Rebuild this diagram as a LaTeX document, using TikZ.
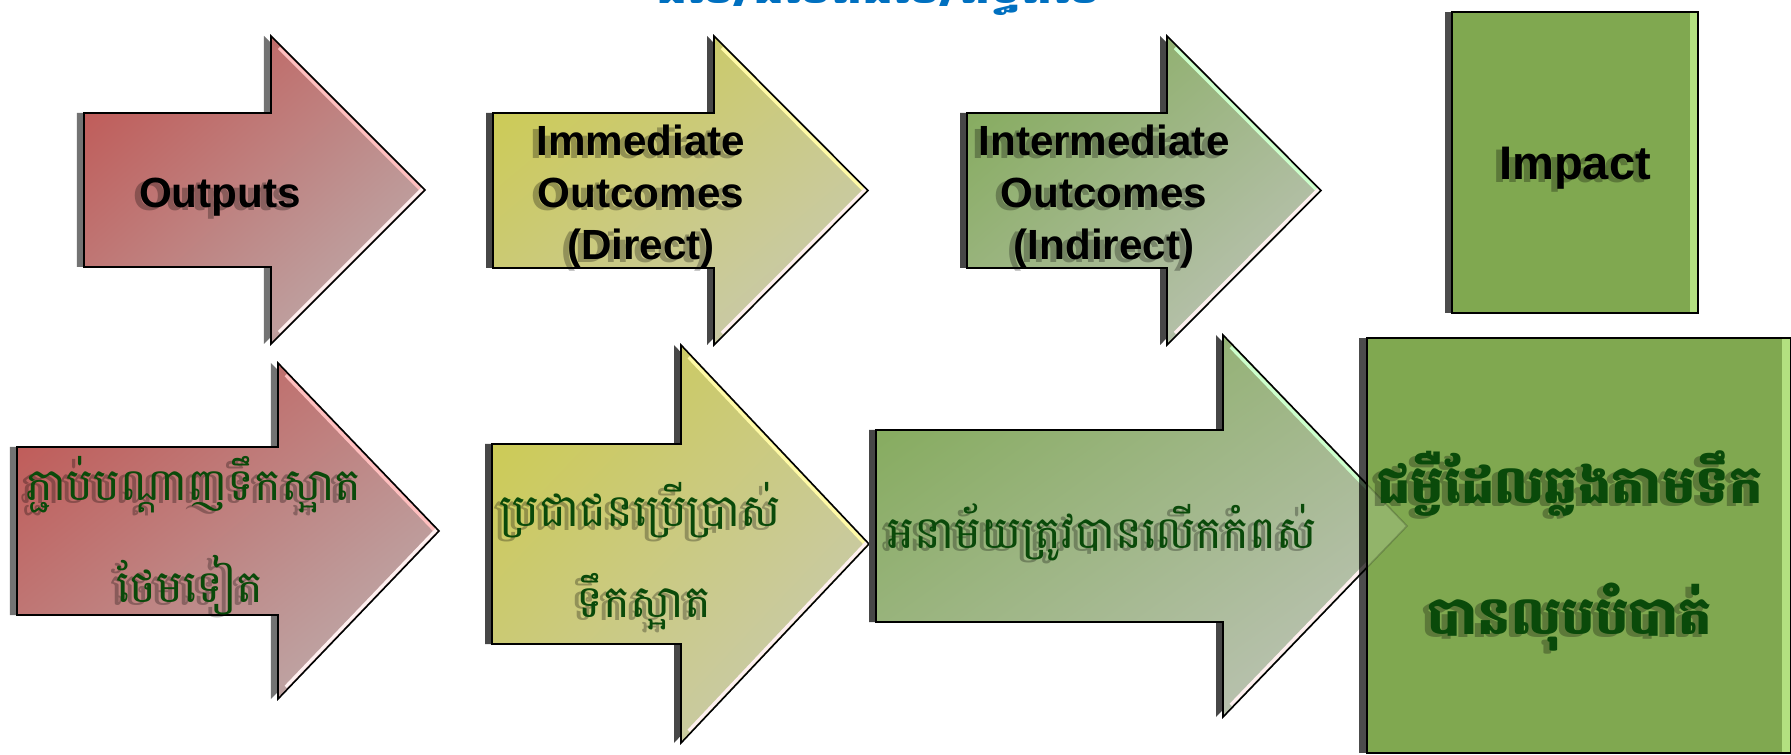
\documentclass[tikz,border=0pt]{standalone}
\usepackage{fontspec}
\setmainfont{Liberation Sans}
\newfontfamily\khmer[Script=Khmer]{Battambang}
\usetikzlibrary{shadings}

\definecolor{redA}{HTML}{C0504D}
\definecolor{redB}{HTML}{BDB6B6}
\definecolor{yelA}{HTML}{CDCB48}
\definecolor{yelB}{HTML}{C8C9BC}
\definecolor{grnA}{HTML}{7EA852}
\definecolor{grnB}{HTML}{C3C6C0}
\definecolor{boxgreen}{HTML}{80A850}
\definecolor{boxstrip}{HTML}{B3E080}
\definecolor{khgreen}{HTML}{0A4A0A}
\definecolor{titleblue}{HTML}{0070C0}
\colorlet{redHi}{red!25!white}
\colorlet{yelHi}{yellow!35!white}
\colorlet{grnHi}{green!20!white}

\begin{document}
\begin{tikzpicture}[x=0.01cm, y=-0.01cm,
    outline/.style={draw=black, line width=0.45pt},
    arrowred/.style={upper left=redA, lower right=redB, upper right=redA!50!redB, lower left=redA!50!redB},
    arrowyel/.style={upper left=yelA, lower right=yelB, upper right=yelA!50!yelB, lower left=yelA!50!yelB},
    arrowgrn/.style={upper left=grnA, lower right=grnB, upper right=grnA!50!grnB, lower left=grnA!50!grnB},
    entext/.style={font=\bfseries\fontsize{12pt}{14.8pt}\selectfont, align=center, inner sep=0pt},
    khtext/.style={font=\khmer\fontsize{12.8pt}{15pt}\selectfont, text=khgreen, anchor=base, inner sep=0pt},
    khbold/.style={khtext, font=\khmer\bfseries\fontsize{15pt}{18pt}\selectfont},
    txtshadow/.style={xshift=-0.06cm, yshift=-0.03cm, text=black, opacity=0.28},
    impactbox/.style={fill=boxgreen}
  ]
  \useasboundingbox (0,0) rectangle (1791,755);

  % title, cut off at the top
  \node[font=\khmer\bfseries\fontsize{14pt}{16pt}\selectfont, text=titleblue, anchor=base, inner sep=0pt] (title) at (878,4) {ផល/ផលិតផល/ឥទ្ធិពល};

  % arrows: left / top / bottom / neck / head top / tip / colour / shadow
  \foreach \L/\T/\B/\N/\H/\X/\C/\S in {
      84/113/267/271/36/425/red/55,
      493/113/268/714/36/868/yel/72,
      967/113/268/1167/36/1321/grn/72,
      17/447/615/278/363/439/red/55,
      492/444/644/681/345/869/yel/72,
      876/430/622/1223/335/1407/grn/72}
  {
    \pgfmathsetmacro\M{(\T+\B)/2}
    \pgfmathsetmacro\G{2*\M-\H}
    \fill[black!\S, xshift=-0.07cm] (\L,\T) -- (\N,\T) -- (\N,\H) -- (\X,\M) -- (\N,\G) -- (\N,\B) -- (\L,\B) -- cycle;
    \shade[arrow\C] (\L,\T) -- (\N,\T) -- (\N,\H) -- (\X,\M) -- (\N,\G) -- (\N,\B) -- (\L,\B) -- cycle;
    \draw[\C Hi, line width=0.9pt, shorten <=4pt, xshift=-0.02cm, yshift=-0.02cm] (\N,\H) -- (\X,\M);
    \draw[white!94!red, line width=0.9pt, shorten >=4pt, xshift=-0.02cm, yshift=0.02cm] (\X,\M) -- (\N,\G);
    \draw[outline] (\L,\T) -- (\N,\T) -- (\N,\H) -- (\X,\M) -- (\N,\G) -- (\N,\B) -- (\L,\B) -- cycle;
  }

  % impact boxes
  \fill[black, opacity=0.7] (1445,12) rectangle (1452,313);
  \fill[impactbox] (1452,12) rectangle (1698,313);
  \fill[boxstrip] (1690,12) rectangle (1698,313);
  \draw[outline] (1452,12) rectangle (1698,313);

  \fill[black, opacity=0.7] (1359,338) rectangle (1367,753);
  \fill[impactbox] (1367,338) rectangle (1791,753);
  \begin{scope}
    \clip (1367,338) rectangle (1791,753);
    \fill[white, opacity=0.15] (1223,335) -- (1407,526) -- (1223,717) -- cycle;
    \draw[black, opacity=0.2, line width=0.45pt] (1223,335) -- (1407,526) -- (1223,717);
  \end{scope}
  \fill[boxstrip] (1782,338) rectangle (1791,753);
  \draw[outline] (1367,338) rectangle (1791,753);

  % top row labels
  \node[entext, txtshadow] (outputs-s) at (220,197) {Outputs};
  \node[entext] (outputs) at (220,197) {Outputs};
  \node[entext, txtshadow] (direct-s) at (641,197) {Immediate\\Outcomes\\(Direct)};
  \node[entext] (direct) at (641,197) {Immediate\\Outcomes\\(Direct)};
  \node[entext, txtshadow] (indirect-s) at (1104,197) {Intermediate\\Outcomes\\(Indirect)};
  \node[entext] (indirect) at (1104,197) {Intermediate\\Outcomes\\(Indirect)};
  \node[entext, font=\bfseries\fontsize{13.4pt}{16pt}\selectfont, txtshadow] (impact-s) at (1575,168) {Impact};
  \node[entext, font=\bfseries\fontsize{13.4pt}{16pt}\selectfont] (impact) at (1575,168) {Impact};

  % bottom row labels
  \node[khtext, txtshadow] (connect-s) at (194,500) {ភ្ជាប់បណ្ដាញទឹកស្អាត};
  \node[khtext] (connect) at (194,500) {ភ្ជាប់បណ្ដាញទឹកស្អាត};
  \node[khtext, txtshadow] (connect2-s) at (190,602) {ថែមទៀត};
  \node[khtext] (connect2) at (190,602) {ថែមទៀត};
  \node[khtext, txtshadow] (use-s) at (640,527) {ប្រជាជនប្រើប្រាស់};
  \node[khtext] (use) at (640,527) {ប្រជាជនប្រើប្រាស់};
  \node[khtext, txtshadow] (use2-s) at (644,617) {ទឹកស្អាត};
  \node[khtext] (use2) at (644,617) {ទឹកស្អាត};
  \node[khtext, txtshadow] (hygiene-s) at (1102,548) {អនាម័យត្រូវបានលើកកំពស់};
  \node[khtext] (hygiene) at (1102,548) {អនាម័យត្រូវបានលើកកំពស់};
  \node[khbold, txtshadow] (disease-s) at (1570,503) {ជម្ងឺដែលឆ្លងតាមទឹក};
  \node[khbold] (disease) at (1570,503) {ជម្ងឺដែលឆ្លងតាមទឹក};
  \node[khbold, txtshadow] (disease2-s) at (1570,634) {បានលុបបំបាត់};
  \node[khbold] (disease2) at (1570,634) {បានលុបបំបាត់};
\end{tikzpicture}
\end{document}
